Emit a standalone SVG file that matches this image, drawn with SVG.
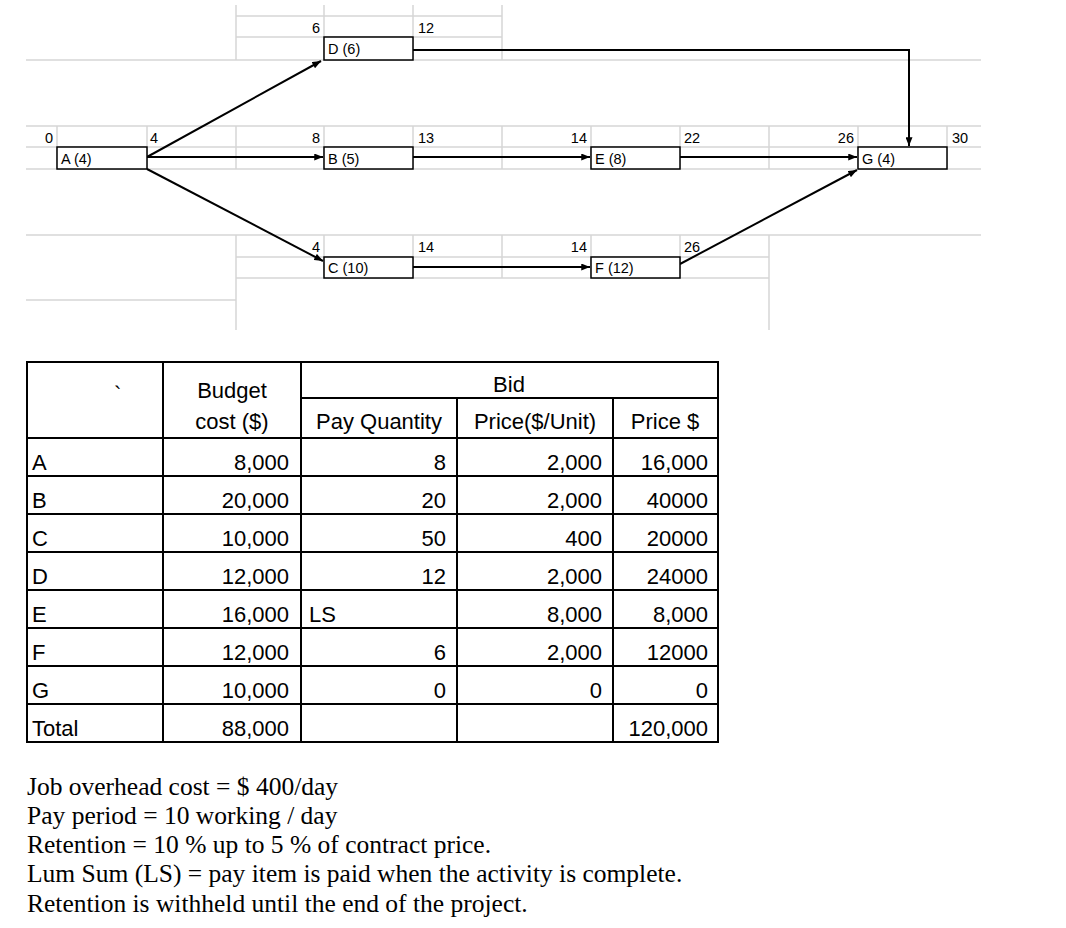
<svg xmlns="http://www.w3.org/2000/svg" width="1066" height="928" viewBox="0 0 1066 928">
<style>
.grid{stroke:#d6d6d6;stroke-width:1.5;fill:none}
.box{fill:#fff;stroke:#000;stroke-width:1.5}
.bt{font-family:"Liberation Sans",Arial,sans-serif;font-size:14.5px;fill:#000}
.num{font-family:"Liberation Sans",Arial,sans-serif;font-size:14.5px;fill:#000}
.r{text-anchor:end}
.conn{stroke:#000;stroke-width:2;fill:none}
.tl{stroke:#000;stroke-width:2;fill:none}
.tt{font-family:"Liberation Sans",Arial,sans-serif;font-size:22px;fill:#000}
.c{text-anchor:middle}
.note{font-family:"Liberation Serif","Times New Roman",serif;font-size:25.5px;fill:#000}
</style>
<defs>
<marker id="ah" viewBox="0 0 10 8" refX="10" refY="4" markerWidth="9" markerHeight="7" markerUnits="userSpaceOnUse" orient="auto">
<path d="M0,0 L10,4 L0,8 z" fill="#000"/>
</marker>
</defs>
<rect width="1066" height="928" fill="#fff"/>
<g id="gridlines">
<path class="grid" d="M236,16H502M236,37H502M26,60H981M236,5V60M324,5V60M413,5V60M502,5V60"/>
<path class="grid" d="M26,126H981M26,147H981M26,169H981M57,126V169M147,126V169M236,126V169M324,126V169M413,126V169M502,126V169M591,126V169M680,126V169M769,126V169M858,126V169M947,126V169"/>
<path class="grid" d="M26,235H981M236,257H769M236,278H769M26,300H236M236,235V330M324,235V278M413,235V278M502,235V278M591,235V278M680,235V278M769,235V330"/>
</g>
<g id="labels">
<text class="num r" x="320" y="33">6</text>
<text class="num" x="418" y="33">12</text>
<text class="num r" x="53" y="143">0</text>
<text class="num" x="150" y="143">4</text>
<text class="num r" x="320" y="143">8</text>
<text class="num" x="418" y="143">13</text>
<text class="num r" x="587" y="143">14</text>
<text class="num" x="684" y="143">22</text>
<text class="num r" x="854" y="143">26</text>
<text class="num" x="952" y="143">30</text>
<text class="num r" x="320" y="252">4</text>
<text class="num" x="418" y="252">14</text>
<text class="num r" x="587" y="252">14</text>
<text class="num" x="684" y="252">26</text>
</g>
<g id="connectors">
<line class="conn" x1="147" y1="157" x2="321" y2="61" marker-end="url(#ah)"/>
<line class="conn" x1="147" y1="157" x2="323" y2="157" marker-end="url(#ah)"/>
<line class="conn" x1="147" y1="169" x2="323" y2="261" marker-end="url(#ah)"/>
<polyline class="conn" points="413,50 909,50 909,146" marker-end="url(#ah)"/>
<line class="conn" x1="413" y1="157" x2="590" y2="157" marker-end="url(#ah)"/>
<line class="conn" x1="680" y1="157" x2="857" y2="157" marker-end="url(#ah)"/>
<line class="conn" x1="413" y1="267" x2="590" y2="267" marker-end="url(#ah)"/>
<line class="conn" x1="680" y1="264" x2="857" y2="170" marker-end="url(#ah)"/>
</g>
<g id="node-A"><rect class="box" x="57" y="147" width="90" height="22"/><text class="bt" x="61" y="164">A (4)</text></g>
<g id="node-D"><rect class="box" x="324" y="37" width="89" height="23"/><text class="bt" x="328" y="54">D (6)</text></g>
<g id="node-B"><rect class="box" x="324" y="147" width="89" height="22"/><text class="bt" x="328" y="164">B (5)</text></g>
<g id="node-C"><rect class="box" x="324" y="257" width="89" height="21"/><text class="bt" x="328" y="273">C (10)</text></g>
<g id="node-E"><rect class="box" x="591" y="147" width="89" height="22"/><text class="bt" x="595" y="164">E (8)</text></g>
<g id="node-F"><rect class="box" x="591" y="257" width="89" height="21"/><text class="bt" x="595" y="273">F (12)</text></g>
<g id="node-G"><rect class="box" x="858" y="147" width="89" height="22"/><text class="bt" x="862" y="164">G (4)</text></g>
<g id="table">
<rect class="tl" x="27" y="362" width="691" height="380"/>
<path class="tl" d="M163,362V742M301,362V742M457,398V742M613,398V742M301,398H718M27,438H718M27,476H718M27,514H718M27,552H718M27,590H718M27,628H718M27,666H718M27,704H718"/>
<text class="tt" x="114" y="402">`</text>
<text class="tt c" x="232" y="398">Budget</text>
<text class="tt c" x="232" y="429">cost ($)</text>
<text class="tt c" x="509" y="392">Bid</text>
<text class="tt c" x="379" y="429">Pay Quantity</text>
<text class="tt c" x="535" y="429">Price($/Unit)</text>
<text class="tt c" x="665" y="429">Price $</text>
<text class="tt" x="32" y="470">A</text><text class="tt r" x="289" y="470">8,000</text><text class="tt r" x="446" y="470">8</text><text class="tt r" x="602" y="470">2,000</text><text class="tt r" x="708" y="470">16,000</text>
<text class="tt" x="32" y="508">B</text><text class="tt r" x="289" y="508">20,000</text><text class="tt r" x="446" y="508">20</text><text class="tt r" x="602" y="508">2,000</text><text class="tt r" x="708" y="508">40000</text>
<text class="tt" x="32" y="546">C</text><text class="tt r" x="289" y="546">10,000</text><text class="tt r" x="446" y="546">50</text><text class="tt r" x="602" y="546">400</text><text class="tt r" x="708" y="546">20000</text>
<text class="tt" x="32" y="584">D</text><text class="tt r" x="289" y="584">12,000</text><text class="tt r" x="446" y="584">12</text><text class="tt r" x="602" y="584">2,000</text><text class="tt r" x="708" y="584">24000</text>
<text class="tt" x="32" y="622">E</text><text class="tt r" x="289" y="622">16,000</text><text class="tt" x="309" y="622">LS</text><text class="tt r" x="602" y="622">8,000</text><text class="tt r" x="708" y="622">8,000</text>
<text class="tt" x="32" y="660">F</text><text class="tt r" x="289" y="660">12,000</text><text class="tt r" x="446" y="660">6</text><text class="tt r" x="602" y="660">2,000</text><text class="tt r" x="708" y="660">12000</text>
<text class="tt" x="32" y="698">G</text><text class="tt r" x="289" y="698">10,000</text><text class="tt r" x="446" y="698">0</text><text class="tt r" x="602" y="698">0</text><text class="tt r" x="708" y="698">0</text>
<text class="tt" x="32" y="736">Total</text><text class="tt r" x="289" y="736">88,000</text><text class="tt r" x="708" y="736">120,000</text>
</g>
<g id="notes">
<text class="note" x="27" y="795">Job overhead cost = $ 400/day</text>
<text class="note" x="27" y="824">Pay period = 10 working / day</text>
<text class="note" x="27" y="853">Retention = 10 % up to 5 % of contract price.</text>
<text class="note" x="27" y="882">Lum Sum (LS) = pay item is paid when the activity is complete.</text>
<text class="note" x="27" y="912">Retention is withheld until the end of the project.</text>
</g>
</svg>
